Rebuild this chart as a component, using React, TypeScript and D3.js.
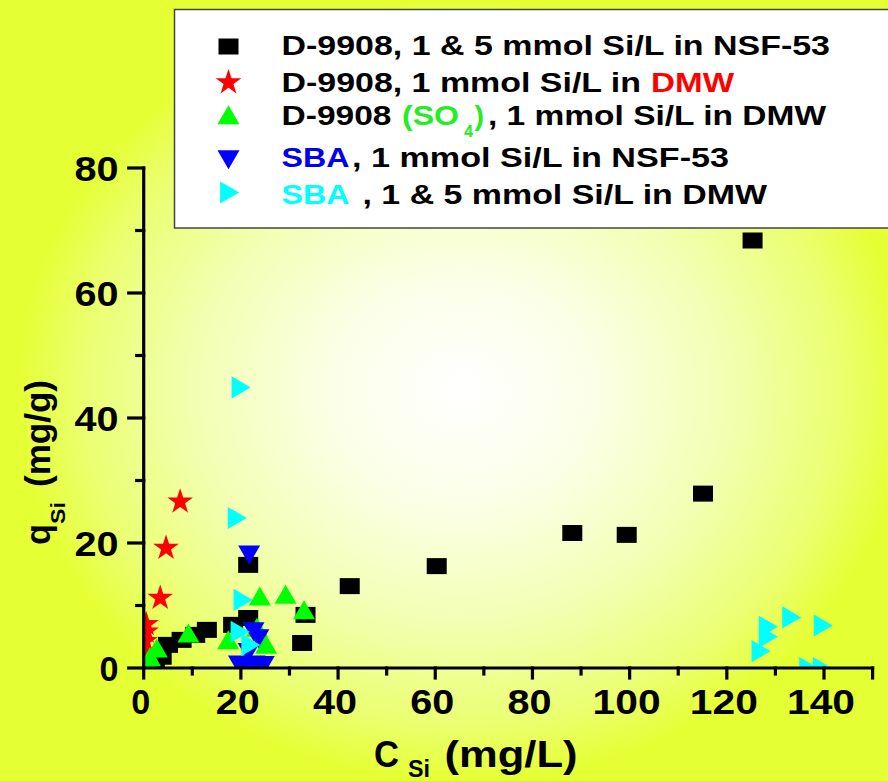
import React from "react";
import * as d3 from "d3";

// values: [C_Si (mg/L), q_Si (mg/g)]
const d9908Nsf = [
  [2.3, 1.0], [3.7, 1.8], [5.0, 3.7], [7.8, 4.5], [10.6, 5.3], [13.0, 6.1],
  [18.4, 6.9], [21.5, 8.0], [21.5, 16.5], [32.6, 4.0], [33.3, 8.5], [42.4, 13.1],
  [60.3, 16.3], [88.2, 21.6], [99.4, 21.3], [115.1, 27.9], [125.3, 68.4],
];
const d9908Dmw = [
  [7.5, 26.6], [4.6, 19.2], [3.4, 11.2], [0.5, 7.0], [0.5, 5.8], [0.3, 4.3],
  [0.2, 2.5], [0.1, 0.5],
];
const d9908So4 = [
  [23.9, 11.0], [29.2, 11.3], [33.0, 8.8], [9.2, 5.1], [23.3, 6.0], [17.4, 4.0],
  [25.2, 3.3], [2.7, 2.7], [1.3, 1.3], [0.9, 0.5],
];
const sbaNsf = [
  [21.7, 18.6], [22.6, 6.3], [23.6, 5.2], [21.6, 3.0], [19.6, 1.0], [21.2, 0.9],
  [22.8, 1.0], [24.7, 0.9],
];
const sbaDmw = [
  [19.4, 44.9], [18.6, 24.0], [19.8, 10.9], [19.2, 5.8], [21.4, 3.7],
  [127.9, 6.6], [127.9, 5.0], [132.7, 8.1], [139.2, 6.8], [126.4, 2.7],
  [136.2, 0.0], [139.0, 0.0],
];

const xTicks = [0, 20, 40, 60, 80, 100, 120, 140];
const xMinor = [10, 30, 50, 70, 90, 110, 130];
const yTicks = [0, 20, 40, 60, 80];
const yMinor = [10, 30, 50, 70];

const W = 888;
const H = 781;
const FONT = "'Liberation Sans', Arial, sans-serif";

const x = d3.scaleLinear().domain([0, 150]).range([143.7, 872.6]);
const y = d3.scaleLinear().domain([0, 80]).range([668, 168]);

const tri = d3.symbol().type(d3.symbolTriangle).size(210)() as string;
const star = d3.symbol().type(d3.symbolStar).size(205)() as string;

const labelLen = (s: string) => (s.length === 1 ? 19 : s.length === 2 ? 44 : 68);

const Square = ({ cx, cy }: { cx: number; cy: number }) => (
  <rect x={cx - 10} y={cy - 8} width={20} height={16} fill="#000" />
);

const Mark = ({ kind, cx, cy }: { kind: string; cx: number; cy: number }) => {
  if (kind === "square") return <Square cx={cx} cy={cy} />;
  if (kind === "star") return <path d={star} transform={`translate(${cx},${cy})`} fill="#ff0000" />;
  if (kind === "up") return <path d={tri} transform={`translate(${cx},${cy})`} fill="#00ff00" />;
  if (kind === "down")
    return <path d={tri} transform={`translate(${cx},${cy}) rotate(180)`} fill="#0000ff" />;
  return <path d={tri} transform={`translate(${cx},${cy}) rotate(90)`} fill="#00ffff" />;
};

const series = [
  { kind: "square", data: d9908Nsf },
  { kind: "star", data: d9908Dmw },
  { kind: "up", data: d9908So4 },
  { kind: "down", data: sbaNsf },
  { kind: "right", data: sbaDmw },
];

type Seg = { t: string; c: string; x0: number; x1: number; fs?: number; dy?: number };

const legendRows: { kind: string; sy: number; base: number; segs: Seg[] }[] = [
  { kind: "square", sy: 46.5, base: 55, segs: [
    { t: "D-9908, 1 & 5 mmol Si/L in NSF-53", c: "#000", x0: 281.5, x1: 830 },
  ] },
  { kind: "star", sy: 82.5, base: 91.5, segs: [
    { t: "D-9908, 1 mmol Si/L in", c: "#000", x0: 281.5, x1: 641 },
    { t: "DMW", c: "#ff0000", x0: 651, x1: 734 },
  ] },
  { kind: "up", sy: 118, base: 125, segs: [
    { t: "D-9908", c: "#000", x0: 281.5, x1: 391.5 },
    { t: "(SO", c: "#22ee22", x0: 402, x1: 459 },
    { t: "4", c: "#22ee22", x0: 464, x1: 473, fs: 17, dy: 12 },
    { t: ")", c: "#22ee22", x0: 474.5, x1: 484 },
    { t: ", 1 mmol Si/L in DMW", c: "#000", x0: 488, x1: 826 },
  ] },
  { kind: "down", sy: 156.5, base: 167, segs: [
    { t: "SBA", c: "#0000ee", x0: 281.5, x1: 349.5 },
    { t: ", 1 mmol Si/L in NSF-53", c: "#000", x0: 352, x1: 729 },
  ] },
  { kind: "right", sy: 192.5, base: 203.5, segs: [
    { t: "SBA", c: "#00ffff", x0: 281.5, x1: 349.5 },
    { t: ", 1 & 5 mmol Si/L in DMW", c: "#000", x0: 362.5, x1: 767 },
  ] },
];

export default function App() {
  const x0 = x(0);
  const y0 = y(0);
  return (
    <svg
      width={W}
      height={H}
      style={{ position: "absolute", left: 0, top: 0 }}
      fontFamily={FONT}
      fontWeight="bold"
    >
      <defs>
        <radialGradient id="bg" cx="0.52" cy="0.5" r="0.5">
          <stop offset="0" stopColor="#ffffff" />
          <stop offset="0.3" stopColor="#fbffe6" />
          <stop offset="0.6" stopColor="#f2ffb2" />
          <stop offset="0.85" stopColor="#ebff72" />
          <stop offset="1" stopColor="#e5ff35" />
        </radialGradient>
        <clipPath id="plot">
          <rect x={x0} y={0} width={W - x0} height={y0} />
        </clipPath>
      </defs>
      <rect width={W} height={H} fill="url(#bg)" />

      {/* data */}
      <g clipPath="url(#plot)">
        {series.map((s) =>
          s.data.map((d, i) => (
            <Mark key={s.kind + i} kind={s.kind} cx={x(d[0])} cy={y(d[1])} />
          ))
        )}
      </g>

      {/* axes */}
      <g stroke="#000" strokeWidth={3.2} strokeLinecap="square">
        <line x1={x0} x2={x(150)} y1={y0} y2={y0} />
        <line x1={x0} x2={x0} y1={y(80)} y2={y0} />
        {[...xTicks, 150].map((t) => (
          <line key={"xt" + t} x1={x(t)} x2={x(t)} y1={y0} y2={y0 + 10} />
        ))}
        {xMinor.map((t) => (
          <line key={"xm" + t} x1={x(t)} x2={x(t)} y1={y0} y2={y0 + 6} />
        ))}
        {yTicks.map((t) => (
          <line key={"yt" + t} x1={x0 - 15} x2={x0} y1={y(t)} y2={y(t)} />
        ))}
        {yMinor.map((t) => (
          <line key={"ym" + t} x1={x0 - 7} x2={x0} y1={y(t)} y2={y(t)} />
        ))}
      </g>
      <g fontSize={35} fill="#000">
        {xTicks.map((t) => {
          const s = String(t);
          const len = labelLen(s);
          return (
            <text key={"xl" + t} x={x(t) - 3 - len / 2} y={714} textLength={len} lengthAdjust="spacingAndGlyphs">
              {s}
            </text>
          );
        })}
        {yTicks.map((t) => {
          const s = String(t);
          const len = labelLen(s);
          return (
            <text key={"yl" + t} x={118.5 - len} y={y(t) + 12.5} textLength={len} lengthAdjust="spacingAndGlyphs">
              {s}
            </text>
          );
        })}
      </g>

      {/* axis titles */}
      <g fill="#000">
        <text x={374} y={767} fontSize={37} textLength={25} lengthAdjust="spacingAndGlyphs">C</text>
        <text x={408} y={777} fontSize={23} textLength={22} lengthAdjust="spacingAndGlyphs">Si</text>
        <text x={444.5} y={767} fontSize={37} textLength={133} lengthAdjust="spacingAndGlyphs">(mg/L)</text>
        <g transform="translate(50,545) rotate(-90)">
          <text x={0} y={0} fontSize={35} textLength={21} lengthAdjust="spacingAndGlyphs">q</text>
          <text x={21} y={15} fontSize={21} textLength={22} lengthAdjust="spacingAndGlyphs">Si</text>
          <text x={58} y={0} fontSize={35} textLength={107} lengthAdjust="spacingAndGlyphs">(mg/g)</text>
        </g>
      </g>

      {/* legend */}
      <rect x={174.5} y={9.5} width={730} height={218.5} fill="#fff" stroke="#444" strokeWidth={1.5} />
      {legendRows.map((r) => (
        <g key={r.kind}>
          <Mark kind={r.kind} cx={r.kind === "right" ? 226.5 : 228.5} cy={r.sy} />
          {r.segs.map((s, i) => (
            <text
              key={i}
              x={s.x0}
              y={r.base + (s.dy || 0)}
              fontSize={s.fs || 27.5}
              fill={s.c}
              textLength={s.x1 - s.x0}
              lengthAdjust="spacingAndGlyphs"
            >
              {s.t}
            </text>
          ))}
        </g>
      ))}
    </svg>
  );
}
